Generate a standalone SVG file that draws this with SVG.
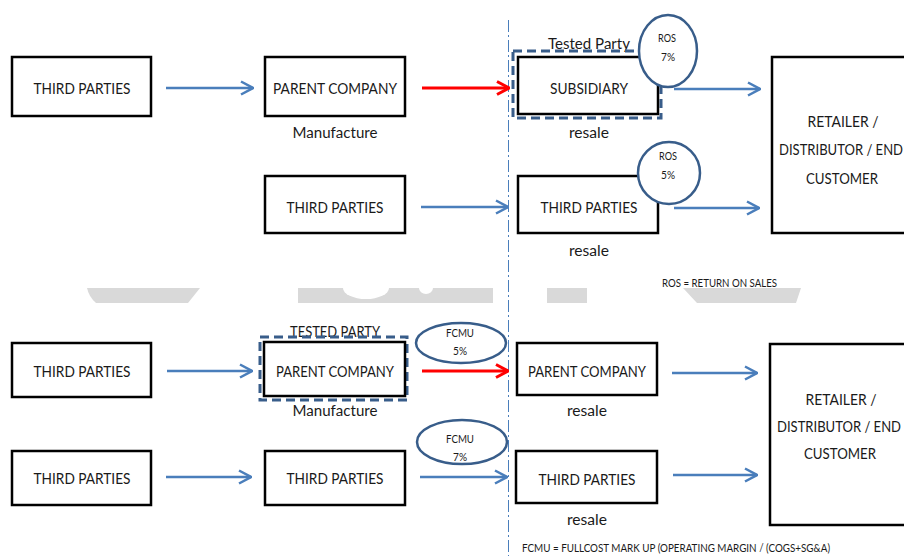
<svg xmlns="http://www.w3.org/2000/svg" width="904" height="556" viewBox="0 0 904 556">
  <defs>
    <style>
      .box { fill: #ffffff; stroke: #000000; stroke-width: 2.5; }
      .tested { fill: none; stroke: #385d8a; stroke-width: 3; stroke-dasharray: 9 5; }
      .badge { fill: #ffffff; stroke: #385d8a; stroke-width: 2.5; }
      .flow { stroke: #4a7ebb; stroke-width: 2.5; fill: none; marker-end: url(#headBlue); }
      .flow-red { stroke: #ff0000; stroke-width: 3; fill: none; marker-end: url(#headRed); }
      .divider { stroke: #4a7ebb; stroke-width: 1; stroke-dasharray: 12 3 2 3; fill: none; }
      text { font-family: Lato, "Liberation Sans", sans-serif; fill: #1a1a1a; }
      .lbl { font-size: 15.5px; text-anchor: middle; }
      .sm { font-size: 11.5px; text-anchor: middle; }
      .note { font-size: 12px; }
    </style>
    <marker id="headBlue" viewBox="0 0 14 16" refX="13" refY="8" markerWidth="14" markerHeight="16" markerUnits="userSpaceOnUse" orient="auto">
      <path d="M1,1.5 L13,8 L1,14.5" fill="none" stroke="#4a7ebb" stroke-width="2.5"/>
    </marker>
    <marker id="headRed" viewBox="0 0 14 16" refX="13" refY="8" markerWidth="14" markerHeight="16" markerUnits="userSpaceOnUse" orient="auto">
      <path d="M1,1.5 L13,8 L1,14.5" fill="none" stroke="#ff0000" stroke-width="3"/>
    </marker>
  </defs>

  <rect width="904" height="556" fill="#ffffff"/>

  <!-- faint grey logo band between the two scenarios -->
  <g id="band" fill="#d9d9d9">
    <path d="M87,288 L200,288 L188,303 L96,303 Q89,297 87,288 Z"/>
    <rect x="298" y="288" width="195" height="15"/>
    <rect x="547" y="288" width="40" height="15"/>
    <path d="M683,288 L801,288 L796,303 L697,303 Z"/>
  </g>
  <g fill="#ffffff">
    <ellipse cx="366" cy="288" rx="23" ry="11"/>
    <ellipse cx="426" cy="288" rx="7" ry="6"/>
  </g>

  <!-- divider between group and third-party side -->
  <line class="divider" x1="508.5" y1="20" x2="508.5" y2="556"/>

  <!-- connectors -->
  <g id="connectors">
    <line class="flow" x1="166" y1="88" x2="253" y2="88"/>
    <line class="flow-red" x1="422" y1="88" x2="509" y2="88"/>
    <line class="flow" x1="674" y1="89" x2="760" y2="89"/>
    <line class="flow" x1="421" y1="207" x2="508" y2="207"/>
    <line class="flow" x1="674" y1="208" x2="759" y2="208"/>

    <line class="flow" x1="167" y1="371" x2="252" y2="371"/>
    <line class="flow-red" x1="422" y1="371" x2="508" y2="371"/>
    <line class="flow" x1="672" y1="373" x2="757" y2="373"/>
    <line class="flow" x1="166" y1="477" x2="251" y2="477"/>
    <line class="flow" x1="420" y1="477" x2="507" y2="477"/>
    <line class="flow" x1="673" y1="475" x2="757" y2="475"/>
  </g>

  <!-- scenario 1: subsidiary is the tested party -->
  <g id="tp-top-1">
    <rect class="box" x="12" y="57" width="139" height="59"/>
    <text class="lbl" x="82" y="93.5" textLength="97" lengthAdjust="spacingAndGlyphs">THIRD PARTIES</text>
  </g>
  <g id="parent-top">
    <rect class="box" x="265" y="57" width="140" height="59"/>
    <text class="lbl" x="335" y="93.5" textLength="124" lengthAdjust="spacingAndGlyphs">PARENT COMPANY</text>
    <text class="lbl" x="335" y="138" textLength="85" lengthAdjust="spacingAndGlyphs">Manufacture</text>
  </g>
  <g id="subsidiary">
    <text class="lbl" x="589" y="49" textLength="82" lengthAdjust="spacingAndGlyphs">Tested Party</text>
    <rect class="tested" x="513" y="51" width="148" height="67"/>
    <rect class="box" x="518" y="57" width="140" height="57"/>
    <text class="lbl" x="589" y="93.5" textLength="78" lengthAdjust="spacingAndGlyphs">SUBSIDIARY</text>
    <text class="lbl" x="589" y="138" textLength="40" lengthAdjust="spacingAndGlyphs">resale</text>
  </g>
  <g id="ros-7">
    <ellipse class="badge" cx="668" cy="51" rx="29" ry="36"/>
    <text class="sm" x="667" y="42" textLength="18" lengthAdjust="spacingAndGlyphs">ROS</text>
    <text class="sm" x="668" y="61" textLength="14" lengthAdjust="spacingAndGlyphs">7%</text>
  </g>
  <g id="tp-top-2">
    <rect class="box" x="265" y="176" width="140" height="57"/>
    <text class="lbl" x="335" y="212.5" textLength="97" lengthAdjust="spacingAndGlyphs">THIRD PARTIES</text>
  </g>
  <g id="tp-top-resale">
    <rect class="box" x="518" y="176" width="140" height="57"/>
    <text class="lbl" x="589" y="212.5" textLength="97" lengthAdjust="spacingAndGlyphs">THIRD PARTIES</text>
    <text class="lbl" x="589" y="256" textLength="40" lengthAdjust="spacingAndGlyphs">resale</text>
  </g>
  <g id="ros-5">
    <ellipse class="badge" cx="669" cy="173" rx="31" ry="31"/>
    <text class="sm" x="668" y="160" textLength="18" lengthAdjust="spacingAndGlyphs">ROS</text>
    <text class="sm" x="668" y="179" textLength="14" lengthAdjust="spacingAndGlyphs">5%</text>
  </g>
  <g id="customer-top">
    <rect class="box" x="772" y="57" width="140" height="176"/>
    <text class="lbl" x="843" y="127" textLength="71" lengthAdjust="spacingAndGlyphs">RETAILER /</text>
    <text class="lbl" x="841" y="155" textLength="124" lengthAdjust="spacingAndGlyphs">DISTRIBUTOR / END</text>
    <text class="lbl" x="842" y="184" textLength="72" lengthAdjust="spacingAndGlyphs">CUSTOMER</text>
  </g>
  <text class="note" x="662" y="287" textLength="115" lengthAdjust="spacingAndGlyphs">ROS = RETURN ON SALES</text>

  <!-- scenario 2: parent company is the tested party -->
  <g id="tp-bot-1">
    <rect class="box" x="12" y="343" width="139" height="54"/>
    <text class="lbl" x="82" y="377" textLength="97" lengthAdjust="spacingAndGlyphs">THIRD PARTIES</text>
  </g>
  <g id="parent-bot">
    <text class="lbl" x="335" y="337" textLength="90" lengthAdjust="spacingAndGlyphs">TESTED PARTY</text>
    <rect class="tested" x="260" y="337" width="147" height="63"/>
    <rect class="box" x="264" y="342" width="141" height="54"/>
    <text class="lbl" x="335" y="377" textLength="118" lengthAdjust="spacingAndGlyphs">PARENT COMPANY</text>
    <text class="lbl" x="335" y="416" textLength="85" lengthAdjust="spacingAndGlyphs">Manufacture</text>
  </g>
  <g id="fcmu-5">
    <ellipse class="badge" cx="461" cy="343" rx="45" ry="20"/>
    <text class="sm" x="460" y="337" textLength="28" lengthAdjust="spacingAndGlyphs">FCMU</text>
    <text class="sm" x="460" y="355" textLength="14" lengthAdjust="spacingAndGlyphs">5%</text>
  </g>
  <g id="parent-resale">
    <rect class="box" x="517" y="343" width="140" height="52"/>
    <text class="lbl" x="587" y="377" textLength="118" lengthAdjust="spacingAndGlyphs">PARENT COMPANY</text>
    <text class="lbl" x="587" y="416" textLength="40" lengthAdjust="spacingAndGlyphs">resale</text>
  </g>
  <g id="customer-bot">
    <rect class="box" x="770" y="344" width="140" height="181"/>
    <text class="lbl" x="841" y="405" textLength="71" lengthAdjust="spacingAndGlyphs">RETAILER /</text>
    <text class="lbl" x="839" y="432" textLength="124" lengthAdjust="spacingAndGlyphs">DISTRIBUTOR / END</text>
    <text class="lbl" x="840" y="459" textLength="72" lengthAdjust="spacingAndGlyphs">CUSTOMER</text>
  </g>
  <g id="tp-bot-2">
    <rect class="box" x="12" y="451" width="139" height="54"/>
    <text class="lbl" x="82" y="484" textLength="97" lengthAdjust="spacingAndGlyphs">THIRD PARTIES</text>
  </g>
  <g id="tp-bot-3">
    <rect class="box" x="265" y="451" width="140" height="54"/>
    <text class="lbl" x="335" y="484" textLength="97" lengthAdjust="spacingAndGlyphs">THIRD PARTIES</text>
  </g>
  <g id="fcmu-7">
    <ellipse class="badge" cx="462" cy="442" rx="45" ry="22"/>
    <text class="sm" x="460" y="443" textLength="28" lengthAdjust="spacingAndGlyphs">FCMU</text>
    <text class="sm" x="460" y="461" textLength="14" lengthAdjust="spacingAndGlyphs">7%</text>
  </g>
  <g id="tp-bot-resale">
    <rect class="box" x="516" y="451" width="141" height="52"/>
    <text class="lbl" x="587" y="485" textLength="97" lengthAdjust="spacingAndGlyphs">THIRD PARTIES</text>
    <text class="lbl" x="587" y="525" textLength="40" lengthAdjust="spacingAndGlyphs">resale</text>
  </g>
  <text class="note" x="522" y="552" textLength="308" lengthAdjust="spacingAndGlyphs">FCMU = FULLCOST MARK UP (OPERATING MARGIN / (COGS+SG&amp;A)</text>
</svg>
